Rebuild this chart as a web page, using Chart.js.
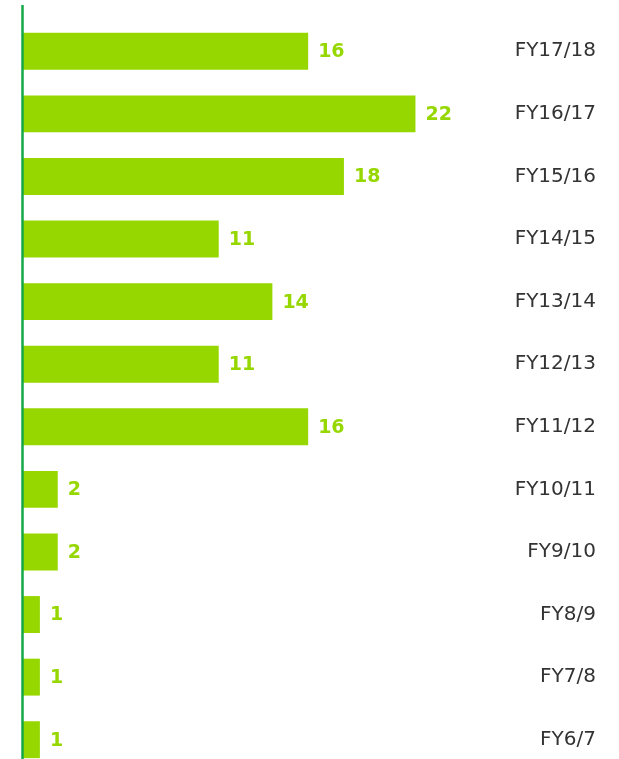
<!DOCTYPE html>
<html>
<head>
<meta charset="utf-8">
<script src="https://cdn.jsdelivr.net/npm/chart.js@4/dist/chart.umd.min.js"></script>
<style>
  html, body { margin: 0; padding: 0; background: #fff; overflow: hidden; }
  #wrap { position: relative; width: 619px; height: 783px; }
</style>
</head>
<body>
<div id="wrap"><canvas id="barChart"></canvas></div>
<script>
// Exercises per financial year, newest first
var years = ['FY17/18', 'FY16/17', 'FY15/16', 'FY14/15', 'FY13/14', 'FY12/13',
             'FY11/12', 'FY10/11', 'FY9/10', 'FY8/9', 'FY7/8', 'FY6/7'];
var counts = [16, 22, 18, 11, 14, 11, 16, 2, 2, 1, 1, 1];

var barGreen = '#97d700';
var axisGreen = '#14a846';
var fontFamily = '"DejaVu Sans", sans-serif';

// value at the end of each bar
var valueLabels = {
    id: 'valueLabels',
    afterDatasetsDraw: function (chart) {
        var ctx = chart.ctx;
        var meta = chart.getDatasetMeta(0);
        ctx.save();
        ctx.fillStyle = barGreen;
        ctx.font = 'bold 19px ' + fontFamily;
        ctx.textAlign = 'left';
        ctx.textBaseline = 'middle';
        meta.data.forEach(function (bar, i) {
            ctx.fillText(String(counts[i]), bar.x + 10, bar.y + 1);
        });
        ctx.restore();
    }
};

// green baseline on the left, runs the full height
var baseLine = {
    id: 'baseLine',
    afterDatasetsDraw: function (chart) {
        var ctx = chart.ctx;
        var x = chart.scales.x.getPixelForValue(0) + 0.5;
        ctx.save();
        ctx.strokeStyle = axisGreen;
        ctx.lineWidth = 2.5;
        ctx.beginPath();
        ctx.moveTo(x, 5);
        ctx.lineTo(x, chart.height);
        ctx.stroke();
        ctx.restore();
    }
};

var ctx = document.getElementById('barChart').getContext('2d');
var myChart = new Chart(ctx, {
    type: 'bar',
    data: {
        labels: years,
        datasets: [{
            data: counts,
            backgroundColor: barGreen,
            borderWidth: 0,
            categoryPercentage: 1,
            barPercentage: 0.59
        }]
    },
    options: {
        indexAxis: 'y',
        responsive: true,
        maintainAspectRatio: false,
        animation: false,
        layout: { padding: { left: 22, right: 23, top: 20, bottom: 0 } },
        plugins: {
            legend: { display: false },
            tooltip: { enabled: false }
        },
        scales: {
            x: {
                display: false,
                min: 0,
                max: 26
            },
            y: {
                position: 'right',
                grid: { display: false },
                border: { display: false },
                afterFit: function (axis) { axis.width = 109; },
                ticks: {
                    crossAlign: 'far',
                    padding: 0,
                    color: '#333333',
                    font: { family: fontFamily, size: 20 }
                }
            }
        }
    },
    plugins: [valueLabels, baseLine]
});
</script>
</body>
</html>
